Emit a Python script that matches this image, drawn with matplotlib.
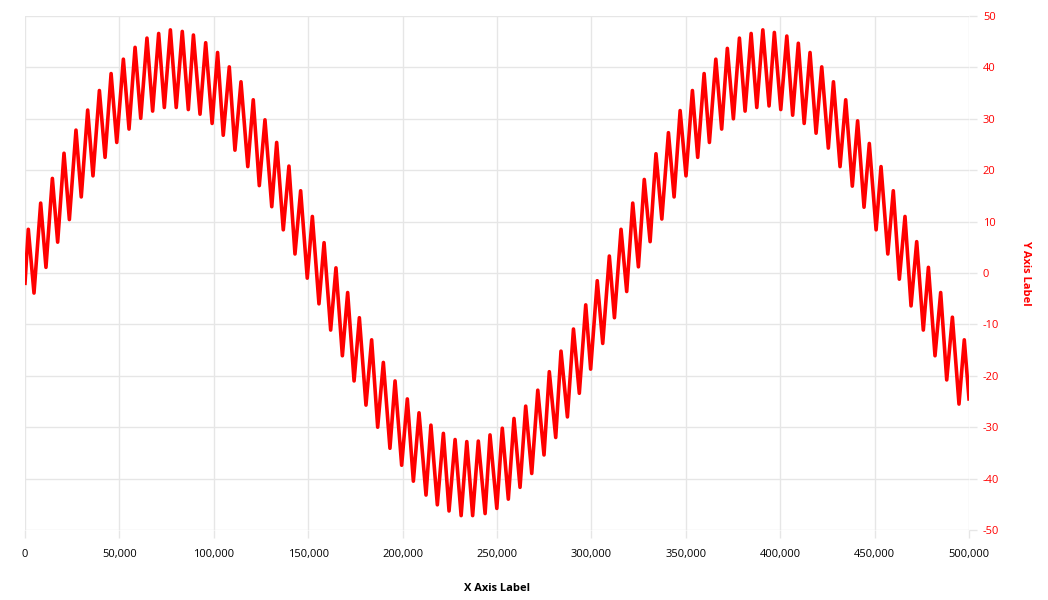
import matplotlib
matplotlib.use("Agg")
import matplotlib.pyplot as plt
from matplotlib.ticker import FuncFormatter, MultipleLocator

# Extrema of the signal (x, y), in order
x_vals = [0, 1750, 4770, 8300, 11100, 14500, 17300, 20660, 23500, 27000, 29800,
          33200, 36000, 39400, 42400, 45600, 48600, 52100, 55100, 58300, 61300,
          64600, 67600, 70800, 73800, 77000, 80100, 83300, 86500, 89200, 92700,
          95700, 99100, 102000, 105000, 108200, 111200, 114400, 118000, 120900, 124100,
          127100, 130700, 133300, 136800, 139800, 143000, 146000, 149500, 152200, 155700,
          158400, 161900, 164700, 168100, 170900, 174300, 177100, 180600, 183600, 186800,
          189800, 193300, 196000, 199500, 202500, 205700, 208700, 212400, 215000, 218400,
          221600, 224600, 227800, 231000, 234000, 237100, 240100, 243700, 246300, 249900,
          252800, 256000, 259000, 262200, 265200, 268400, 271600, 274900, 277700, 281100,
          283900, 287300, 290500, 293600, 297000, 299600, 303100, 306000, 309500, 312200,
          315700, 318700, 321900, 324900, 328000, 331100, 334200, 337300, 340800, 343800,
          347000, 350100, 353500, 356300, 359700, 362500, 365900, 369000, 372000, 375200,
          378400, 381400, 384600, 387600, 390800, 394100, 396900, 400300, 403500, 406600,
          409600, 412700, 415800, 419000, 422000, 425500, 428200, 431700, 434700, 438200,
          441000, 444400, 447200, 450800, 453400, 457000, 459900, 463100, 466100, 469300,
          472300, 475800, 478500, 482000, 485000, 488200, 491200, 494700, 497500, 500000]
y_vals = [-2.0, 8.5, -3.9, 13.6, 1.1, 18.4, 6.0, 23.3, 10.4, 27.8, 14.8,
          31.7, 18.9, 35.5, 22.5, 38.8, 25.4, 41.6, 28.0, 43.9, 30.1,
          45.7, 31.5, 46.6, 32.2, 47.3, 32.2, 47.0, 31.8, 46.3, 30.9,
          44.8, 29.1, 42.9, 26.8, 40.1, 23.9, 37.2, 20.7, 33.7, 17.0,
          29.8, 12.9, 25.4, 8.4, 20.8, 3.7, 16.0, -1.0, 11.0, -6.0,
          5.9, -11.1, 1.0, -16.1, -3.8, -21.0, -8.7, -25.7, -13.0, -30.0,
          -17.4, -34.1, -21.0, -37.4, -24.5, -40.5, -27.2, -43.2, -29.6, -45.1,
          -31.2, -46.3, -32.4, -47.2, -32.8, -47.2, -32.7, -46.8, -31.5, -45.8,
          -30.2, -44.0, -28.3, -41.7, -25.9, -39.0, -22.8, -35.4, -19.2, -32.0,
          -15.2, -28.0, -10.9, -23.4, -6.2, -18.7, -1.5, -13.7, 3.3, -8.7,
          8.5, -3.6, 13.6, 1.2, 18.2, 6.1, 23.2, 10.5, 27.3, 14.8,
          31.6, 18.9, 35.5, 22.5, 38.8, 25.4, 41.6, 28.0, 43.7, 30.0,
          45.7, 31.5, 46.6, 32.2, 47.3, 32.5, 46.8, 31.8, 46.1, 30.7,
          44.7, 29.1, 42.9, 27.2, 40.1, 24.3, 37.2, 20.7, 33.7, 16.9,
          29.6, 12.8, 25.2, 8.4, 20.7, 3.7, 16.0, -1.2, 11.0, -6.4,
          6.1, -11.1, 1.1, -16.1, -3.8, -20.8, -8.6, -25.5, -13.0, -24.5]

x_label = "X Axis Label"
y_label = "Y Axis Label"

FONT = "Open Sans"
GRID = "#e6e6e6"

fig = plt.figure(figsize=(10.48, 6.0), dpi=100)
ax = fig.add_axes([25 / 1048, 70 / 600, 944 / 1048, 514 / 600])

ax.plot(x_vals, y_vals, color="#ff0000", lw=2.6, solid_joinstyle="round")

ax.set_xlim(0, 500000)
ax.set_ylim(-50, 50)
ax.xaxis.set_major_locator(MultipleLocator(50000))
ax.yaxis.set_major_locator(MultipleLocator(10))
ax.xaxis.set_major_formatter(FuncFormatter(lambda v, p: f"{int(v):,}"))
ax.yaxis.set_major_formatter(FuncFormatter(lambda v, p: f"{int(v)}"))

ax.grid(True, color=GRID, lw=1)
ax.set_axisbelow(True)
for s in ax.spines.values():
    s.set_visible(False)

ax.yaxis.tick_right()
ax.yaxis.set_label_position("right")
ax.tick_params(axis="x", colors=GRID, length=6, width=1, pad=8, labelcolor="#000000", labelsize=8)
ax.tick_params(axis="y", colors=GRID, length=6, width=1, pad=4, labelcolor="#ff0000", labelsize=8)
for lbl in ax.get_xticklabels() + ax.get_yticklabels():
    lbl.set_fontfamily(FONT)

ax.set_xlabel(x_label, fontfamily=FONT, fontweight="bold", fontsize=8, color="#000000", labelpad=16)
ax.set_ylabel(y_label, fontfamily=FONT, fontweight="bold", fontsize=8, color="#ff0000",
              rotation=-90, labelpad=19, va="center")

fig.savefig("out.png", dpi=100)
